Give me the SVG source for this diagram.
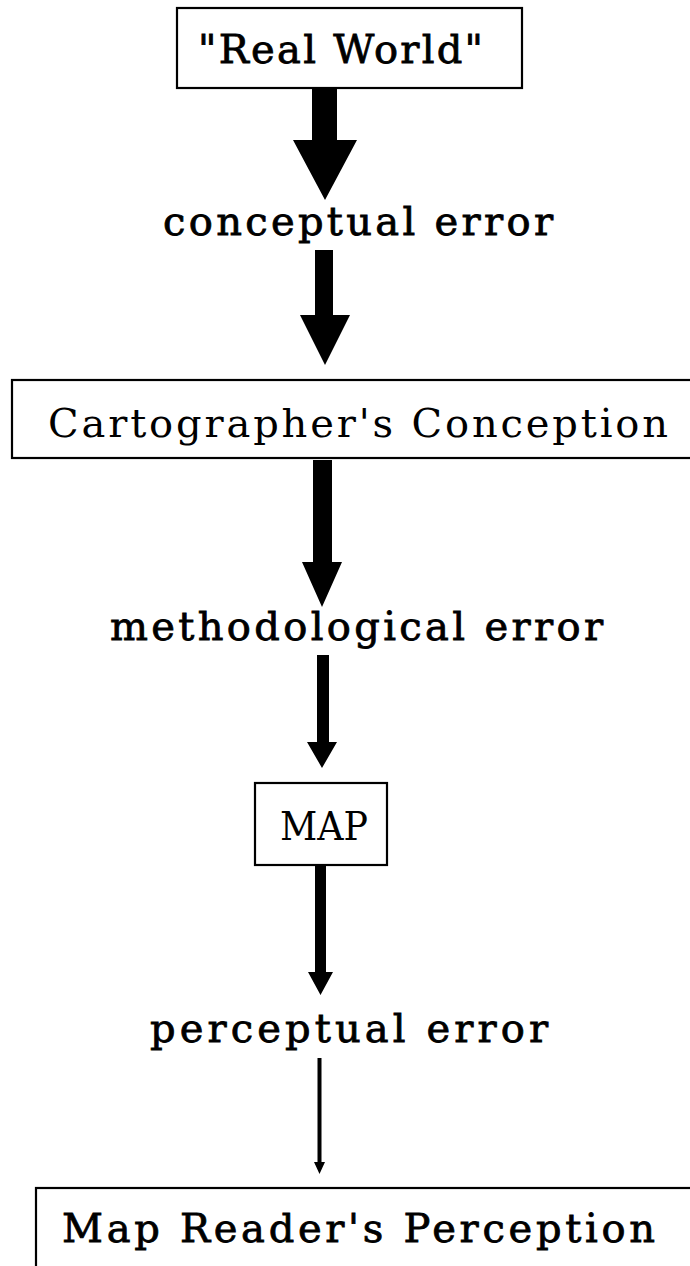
<svg xmlns="http://www.w3.org/2000/svg" width="690" height="1266" viewBox="0 0 690 1266">
<style>
.box{fill:#fff;stroke:#000;stroke-width:2.2}
.t{font-family:"DejaVu Serif","Liberation Serif",serif;font-size:40px;fill:#000}
.heavy{stroke:#000;stroke-width:0.8}
.arrow{fill:#000;stroke:none}
</style>
<rect width="690" height="1266" fill="#fff"/>
<g id="connectors">
<polygon class="arrow" points="312,88 337,88 337,140 357,140 325,200 293,140 312,140"/>
<polygon class="arrow" points="315,250 333,250 333,315 350,315 325,365 300,315 315,315"/>
<polygon class="arrow" points="313,460 332,460 332,562 342,562 322,607 302,562 313,562"/>
<polygon class="arrow" points="317,655 329,655 329,742 337,742 322,768 307,742 317,742"/>
<polygon class="arrow" points="315,865 326,865 326,972 333,972 320.5,995 308,972 315,972"/>
<polygon class="arrow" points="317.5,1058 321.5,1058 321.5,1162 325,1162 319.5,1174 314,1162 317.5,1162"/>
</g>
<g id="real-world">
<rect class="box" x="177" y="8" width="345" height="80"/>
<text class="t heavy" x="198" y="63" textLength="285">"Real World"</text>
</g>
<g id="conceptual-error">
<text class="t heavy" x="163" y="235" textLength="390">conceptual error</text>
</g>
<g id="cartographers-conception">
<rect class="box" x="12" y="380" width="690" height="78"/>
<text class="t" x="48" y="437" textLength="620">Cartographer's Conception</text>
</g>
<g id="methodological-error">
<text class="t heavy" x="110" y="640" textLength="493">methodological error</text>
</g>
<g id="map">
<rect class="box" x="255" y="783" width="132" height="82"/>
<text class="t" x="280" y="840" textLength="88" lengthAdjust="spacingAndGlyphs">MAP</text>
</g>
<g id="perceptual-error">
<text class="t heavy" x="150" y="1042" textLength="398">perceptual error</text>
</g>
<g id="map-readers-perception">
<rect class="box" x="36" y="1188" width="680" height="100"/>
<text class="t heavy" x="62" y="1242" textLength="593">Map Reader's Perception</text>
</g>
</svg>
